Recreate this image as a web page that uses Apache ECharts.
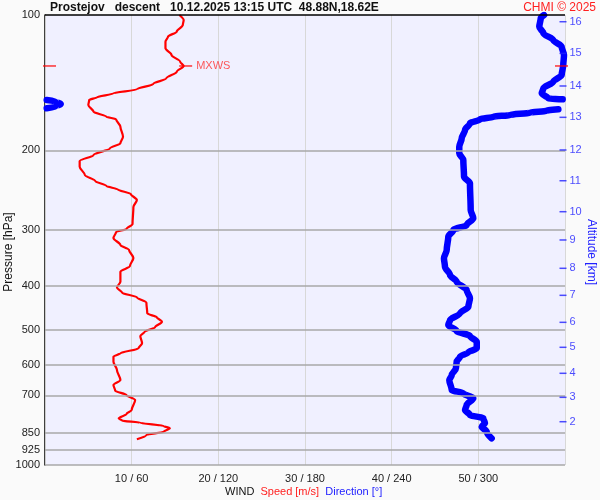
<!DOCTYPE html>
<html>
<head>
<meta charset="utf-8">
<script src="https://cdn.jsdelivr.net/npm/echarts@6/dist/echarts.min.js"></script>
<style>
  html, body { margin: 0; background: #fafafa; }
  #chart { width: 600px; height: 500px; }
</style>
</head>
<body>
<div id="chart"></div>
<script>
// pressure levels [hPa] of the wind speed trace, and speed [m/s]
const speedP = [100, 102.6, 105.3, 108.9, 111.7, 114.6, 118.6, 122.7, 127.0, 129.8,
  133.7, 138.3, 142.3, 146.3, 149.3, 152.4, 154.5, 158.5, 164.0, 168.3,
  170.5, 177.1, 186.4, 192.8, 197.8, 204.7, 211.1, 217.3, 226.8, 233.8,
  239.9, 244.2, 249.9, 257.7, 267.1, 291.3, 298.9, 303.5, 313.0, 324.4,
  332.8, 346.7, 361.3, 372.0, 391.5, 403.3, 414.2, 424.0, 435.9, 460.2,
  469.7, 480.4, 494.3, 505.6, 516.8, 536.5, 550.4, 564.6, 574.5, 589.4,
  615.0, 647.3, 664.1, 683.8, 699.0, 717.1, 754.8, 770.4, 787.5, 797.2,
  805.4, 819.1, 828.8, 843.4, 857.7, 876.8];
const speed = [15.5, 16.0, 15.9, 15.2, 14.2, 13.9, 13.9, 14.6, 15.6, 16.0,
  15.2, 14.0, 12.5, 10.6, 7.9, 6.0, 5.1, 5.0, 5.6, 7.1,
  8.2, 8.7, 9.0, 8.7, 7.5, 5.6, 4.0, 4.0, 4.6, 5.8,
  7.1, 8.4, 9.9, 10.6, 10.2, 10.1, 9.4, 8.2, 7.9, 8.7,
  9.7, 10.2, 9.8, 8.7, 8.7, 8.3, 8.9, 10.6, 11.7, 11.8,
  12.9, 13.5, 12.7, 11.5, 11.0, 11.2, 10.8, 8.7, 7.9, 7.9,
  8.3, 8.7, 7.9, 8.1, 9.4, 10.4, 10.0, 9.4, 8.5, 8.9,
  11.0, 13.7, 14.4, 13.7, 11.7, 10.6];

// wind direction [deg]; null = trace wraps across 360/0
const dirP = [100, 101.7, 106.2, 109.8, 113.7, 117.6, 122.7, 129.2, 135.9, 140.7,
  145.5, 149.3, 153.2, 153.9, null,
  154.5, 155.8, 157.7, 159.8, 161.2, null,
  162.0, 163.2, 164.8, 166.8, 168.3, 170.5, 174.1, 180.1, 187.9, 196.2,
  202.9, 210.0, 228.7, 236.6, 271.3, 283.0, 292.9, 300.4, 310.9, 332.8,
  347.3, 362.6, 378.3, 391.5, 408.5, 426.2, 444.9, 460.2, 476.3, 488.6,
  503.8, 516.8, 532.1, 550.4, 561.7, 574.5, 589.4, 609.7, 631.0, 647.3,
  681.3, 693.0, 710.9, 735.6, 754.8, 774.3, 787.5, 807.8, 822.1, 843.4, 872.3];
const dir = [345.5, 343.2, 342.2, 345.0, 351.9, 357.7, 359.3, 358.8, 357.7, 351.9,
  345.0, 343.9, 348.4, 358.4, null,
  1.2, 7.5, 10.9, 7.5, 1.2, null,
  355.4, 347.3, 335.8, 321.9, 310.4, 301.2, 294.2, 290.8, 288.5, 286.8,
  286.8, 289.6, 290.1, 294.2, 294.7, 296.5, 291.9, 282.7, 279.2, 278.1,
  276.2, 276.9, 280.4, 285.0, 291.9, 294.2, 293.1, 287.3, 280.4, 279.2,
  285.0, 294.2, 298.9, 298.9, 293.1, 287.3, 285.0, 284.5, 281.6, 279.9,
  281.6, 289.6, 296.5, 291.9, 290.8, 294.2, 303.4, 304.6, 302.3, 305.8, 309.2];

// pressure axis labels / grid lines
const pLevels = [100, 200, 300, 400, 500, 600, 700, 850, 925, 1000];
// altitude axis: km and its pressure level
const altKm = [2, 3, 4, 5, 6, 7, 8, 9, 10, 11, 12, 13, 14, 15, 16];
const altP = [801.3, 707.3, 625.5, 547.6, 481.9, 419.7, 365.5, 316.2, 273.6, 233.5,
  199.5, 168.8, 143.8, 121.7, 103.5];

// max wind
const mxwsP = 129.8;
const mxwsSpeed = 16.0;

const FONT = 'Liberation Sans, Arial, sans-serif';

// split direction trace at the wrap points
const dirSegments = [[]];
dirP.forEach((p, i) => {
  if (p === null) dirSegments.push([]);
  else dirSegments[dirSegments.length - 1].push([dir[i], p]);
});

const chart = echarts.init(document.getElementById('chart'));

const option = {
  backgroundColor: '#fafafa',
  animation: false,
  textStyle: { fontFamily: FONT },
  title: [
    {
      text: 'Prostejov   descent   10.12.2025 13:15 UTC  48.88N,18.62E',
      left: 50, top: 2, padding: 0,
      textStyle: { fontSize: 12, fontWeight: 'bold', color: '#111', fontFamily: FONT },
    },
    {
      text: 'CHMI \u00a9 2025',
      right: 4, top: 2, padding: 0,
      textStyle: { fontSize: 12, fontWeight: 'normal', color: '#ff2020', fontFamily: FONT },
    },
    {
      text: '{w|WIND}  {s|Speed [m/s]}  {d|Direction [\u00b0]}',
      left: 225, top: 486, padding: 0,
      textStyle: {
        fontSize: 11, fontWeight: 'normal', fontFamily: FONT,
        rich: {
          w: { color: '#111', fontSize: 11, fontWeight: 'normal', fontFamily: FONT },
          s: { color: '#ff2020', fontSize: 11, fontWeight: 'normal', fontFamily: FONT },
          d: { color: '#2020ff', fontSize: 11, fontWeight: 'normal', fontFamily: FONT },
        },
      },
    },
  ],
  grid: {
    left: 45, right: 35, top: 15, bottom: 35,
    containLabel: false, outerBoundsMode: 'none',
    show: true, backgroundColor: '#f0f0ff', borderWidth: 0,
  },
  xAxis: [
    {
      type: 'value', min: 0, max: 60, interval: 10, position: 'bottom',
      axisLine: { show: false },
      axisTick: { show: false },
      splitLine: { lineStyle: { color: '#d8d8d8', width: 1 } },
      axisLabel: {
        margin: 8, fontSize: 11, color: '#222', fontFamily: FONT,
        formatter: (v) => (v === 0 || v === 60 ? '' : v + ' / ' + v * 6),
      },
    },
    {
      type: 'value', min: 0, max: 360, position: 'top',
      axisLine: { show: false }, axisTick: { show: false },
      axisLabel: { show: false }, splitLine: { show: false },
    },
  ],
  yAxis: [
    {
      type: 'log', logBase: 10, min: 100, max: 1000, inverse: true, position: 'left',
      axisLine: { show: true, lineStyle: { color: '#000', width: 1.5 } },
      axisTick: { show: false }, axisLabel: { show: false }, splitLine: { show: false },
      name: 'Pressure [hPa]', nameLocation: 'middle', nameGap: 30,
      nameTextStyle: { fontSize: 12, color: '#111', fontFamily: FONT, padding: [0, 24, 0, 0] },
    },
    {
      type: 'log', logBase: 10, min: 100, max: 1000, inverse: true, position: 'right',
      axisLine: { show: true, lineStyle: { color: '#cccccc', width: 1 } },
      axisTick: { show: false }, axisLabel: { show: false }, splitLine: { show: false },
      name: 'Altitude [km]', nameLocation: 'middle', nameGap: 20, nameRotate: -90,
      nameTextStyle: { fontSize: 12, color: '#2020ff', fontFamily: FONT, padding: [0, 0, 0, 24] },
    },
  ],
  series: [
    {
      // pressure grid lines and their labels
      type: 'line', xAxisIndex: 0, yAxisIndex: 0, data: [], z: 1,
      markLine: {
        silent: true, symbol: ['none', 'none'], animation: false,
        label: {
          show: true, position: 'start', distance: 5,
          fontSize: 11, color: '#222', fontFamily: FONT,
          formatter: (p) => String(p.value),
        },
        lineStyle: { color: '#a8a8a8', width: 1.5, type: 'solid' },
        data: pLevels.map((p) => (p === 100
          ? { yAxis: p, lineStyle: { color: '#000', width: 1.5, type: 'solid' } }
          : { yAxis: p })),
      },
    },
    {
      name: 'Speed', type: 'line', xAxisIndex: 0, yAxisIndex: 0, z: 4,
      showSymbol: false, smooth: 0.3, smoothMonotone: 'y',
      lineStyle: { color: '#ff0000', width: 2.2 },
      data: speed.map((v, i) => [v, speedP[i]]),
    },
    ...dirSegments.map((seg) => ({
      name: 'Direction', type: 'line', xAxisIndex: 1, yAxisIndex: 0, z: 3,
      showSymbol: false, smooth: 0.3, smoothMonotone: 'y',
      lineStyle: { color: '#0000ff', width: 6.5, cap: 'round', join: 'round' },
      data: seg,
    })),
    {
      // altitude ticks on the right edge
      type: 'scatter', xAxisIndex: 0, yAxisIndex: 0, z: 5, clip: false, silent: true,
      symbol: 'rect', symbolSize: [7, 1.5], symbolOffset: [-2, 0],
      itemStyle: { color: '#2020ff' },
      label: {
        show: true, position: 'right', distance: 3,
        fontSize: 11, color: '#2020ff', fontFamily: FONT,
        formatter: (p) => String(altKm[p.dataIndex]),
      },
      data: altP.map((p) => [60, p]),
    },
    {
      // MXWS markers
      type: 'scatter', xAxisIndex: 0, yAxisIndex: 0, z: 6, clip: false, silent: true,
      symbol: 'rect', symbolSize: [13, 1.5],
      itemStyle: { color: '#ff0000' },
      data: [
        { value: [0, mxwsP], symbolOffset: [4.5, 0] },
        { value: [60, mxwsP], symbolOffset: [-3.5, 0] },
        {
          value: [mxwsSpeed, mxwsP], symbolOffset: [2, 0],
          label: {
            show: true, position: 'right', distance: 4, formatter: 'MXWS',
            fontSize: 11, color: '#ff3030', fontFamily: FONT,
          },
        },
      ],
    },
  ],
};

chart.setOption(option);
</script>
</body>
</html>
